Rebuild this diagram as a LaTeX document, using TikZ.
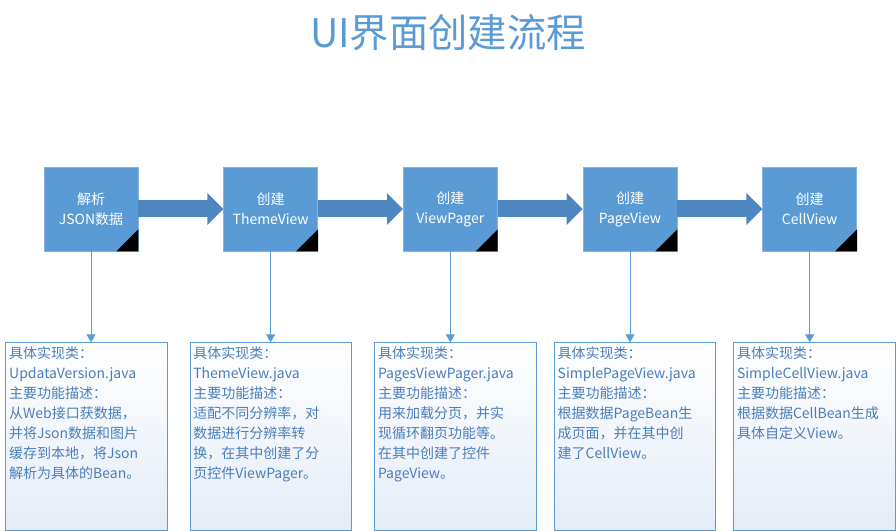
\documentclass[tikz,border=0pt]{standalone}
\usepackage{fontspec}
\setmainfont{Noto Sans CJK SC}
\usepackage{tikz}
\usetikzlibrary{arrows.meta,positioning}
\definecolor{boxblue}{HTML}{5B9BD5}
\definecolor{arrowblue}{HTML}{4E86BF}
\definecolor{textblue}{HTML}{4A7EBB}
\definecolor{descbot}{HTML}{E4ECF7}
\newcommand{\desctext}[1]{\parbox[t][135pt][t]{116pt}{\raggedright #1}}

\begin{document}
\begin{tikzpicture}[
  stepbox/.style={fill=boxblue, draw=boxblue!75!white, line width=0.5pt, minimum width=70.5pt, minimum height=63pt, inner sep=0pt, align=center, text=white, font=\fontsize{10.5pt}{15pt}\selectfont},
  descbox/.style={draw=boxblue, line width=0.75pt, top color=white, bottom color=descbot, minimum width=120pt, minimum height=141pt, inner xsep=2.5pt, inner ysep=3pt, text=textblue, font=\fontsize{10.5pt}{15pt}\selectfont},
  bigarrow/.style={draw=arrowblue, line width=12.75pt, -{Triangle[width=23.25pt,length=12pt]}},
  link/.style={draw=boxblue, line width=0.75pt, -{Triangle[width=6.75pt,length=6pt]}},
  corner/.style={fill=black}
]
\useasboundingbox (0,0) rectangle (672pt,-398.25pt);

\node[text=boxblue, font=\fontsize{29.5pt}{29.5pt}\selectfont] (title) at (336pt,-24.75pt) {UI界面创建流程};

\node[stepbox] (t1) at (68.25pt,-156.75pt) {解析\\JSON数据};
\node[stepbox, right=63.75pt of t1] (t2) {创建\\ThemeView};
\node[stepbox, right=63.75pt of t2] (t3) {创建\\ViewPager};
\node[stepbox, right=63.75pt of t3] (t4) {创建\\PageView};
\node[stepbox, right=63.75pt of t4] (t5) {创建\\CellView};

\fill[corner] (t1.south east) -- ++(-16.5pt,0) -- ++(16.5pt,16.5pt) -- cycle;
\fill[corner] (t2.south east) -- ++(-16.5pt,0) -- ++(16.5pt,16.5pt) -- cycle;
\fill[corner] (t3.south east) -- ++(-16.5pt,0) -- ++(16.5pt,16.5pt) -- cycle;
\fill[corner] (t4.south east) -- ++(-16.5pt,0) -- ++(16.5pt,16.5pt) -- cycle;
\fill[corner] (t5.south east) -- ++(-16.5pt,0) -- ++(16.5pt,16.5pt) -- cycle;

\draw[bigarrow] (t1.east) -- (t2.west);
\draw[bigarrow] (t2.east) -- (t3.west);
\draw[bigarrow] (t3.east) -- (t4.west);
\draw[bigarrow] (t4.east) -- (t5.west);

\node[descbox, below=68.25pt of t1, xshift=-3.375pt] (d1) {\desctext{具体实现类：\\UpdataVersion.java\\主要功能描述：\\从Web接口获数据，\\并将Json数据和图片\\缓存到本地，将Json\\解析为具体的Bean。}};
\node[descbox, below=68.25pt of t2] (d2) {\desctext{具体实现类：\\ThemeView.java\\主要功能描述：\\适配不同分辨率，对\\数据进行分辨率转\\换，在其中创建了分\\页控件ViewPager。}};
\node[descbox, below=68.25pt of t3, xshift=3.75pt] (d3) {\desctext{具体实现类：\\PagesViewPager.java\\主要功能描述：\\用来加载分页，并实\\现循环翻页功能等。\\在其中创建了控件\\PageView。}};
\node[descbox, below=68.25pt of t4, xshift=3.75pt] (d4) {\desctext{具体实现类：\\SimplePageView.java\\主要功能描述：\\根据数据PageBean生\\成页面，并在其中创\\建了CellView。}};
\node[descbox, below=68.25pt of t5, xshift=3.5pt] (d5) {\desctext{具体实现类：\\SimpleCellView.java\\主要功能描述：\\根据数据CellBean生成\\具体自定义View。}};

\draw[link] (t1.south) -- (t1.south |- d1.north);
\draw[link] (t2.south) -- (t2.south |- d2.north);
\draw[link] (t3.south) -- (t3.south |- d3.north);
\draw[link] (t4.south) -- (t4.south |- d4.north);
\draw[link] (t5.south) -- (t5.south |- d5.north);

\end{tikzpicture}
\end{document}
